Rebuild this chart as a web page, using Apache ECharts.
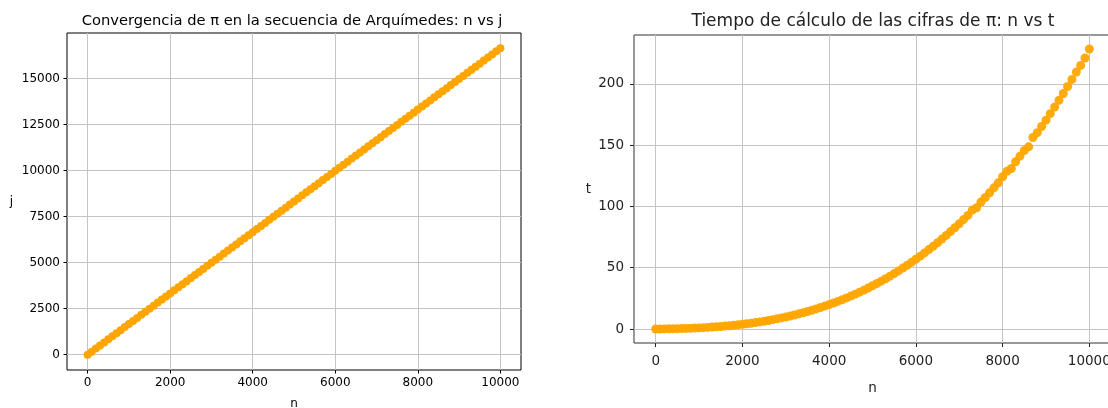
<!DOCTYPE html>
<html>
<head>
<meta charset="utf-8">
<script src="https://cdn.jsdelivr.net/npm/echarts@6/dist/echarts.min.js"></script>
<style>
html,body{margin:0;padding:0;background:#fff;}
#chart{width:1108px;height:408px;}
</style>
</head>
<body>
<div id="chart"></div>
<script>
// n values (shared by both plots)
const nValues = [0,100,200,300,400,500,600,700,800,900,1000,1100,1200,1300,1400,1500,1600,1700,1800,1900,2000,2100,2200,2300,2400,2500,2600,2700,2800,2900,3000,3100,3200,3300,3400,3500,3600,3700,3800,3900,4000,4100,4200,4300,4400,4500,4600,4700,4800,4900,5000,5100,5200,5300,5400,5500,5600,5700,5800,5900,6000,6100,6200,6300,6400,6500,6600,6700,6800,6900,7000,7100,7200,7300,7400,7500,7600,7700,7800,7900,8000,8100,8200,8300,8400,8500,8600,8700,8800,8900,9000,9100,9200,9300,9400,9500,9600,9700,9800,9900,10000];
// j values (left plot)
const jValues = [0,166,333,499,666,832,998,1165,1331,1498,1664,1830,1997,2163,2330,2496,2662,2829,2995,3162,3328,3494,3661,3827,3994,4160,4326,4493,4659,4826,4992,5158,5325,5491,5658,5824,5990,6157,6323,6490,6656,6822,6989,7155,7322,7488,7654,7821,7987,8154,8320,8486,8653,8819,8986,9152,9318,9485,9651,9818,9984,10150,10317,10483,10650,10816,10982,11149,11315,11482,11648,11814,11981,12147,12314,12480,12646,12813,12979,13146,13312,13478,13645,13811,13978,14144,14310,14477,14643,14810,14976,15142,15309,15475,15642,15808,15974,16141,16307,16474,16640];
// t values (right plot)
const tValues = [0,0.04,0.08,0.14,0.2,0.29,0.38,0.49,0.62,0.77,0.93,1.11,1.32,1.55,1.8,2.07,2.37,2.69,3.05,3.43,3.84,4.28,4.75,5.26,5.8,6.38,6.99,7.63,8.32,9.04,9.81,10.62,11.47,12.36,13.3,14.28,15.31,16.39,17.52,18.69,19.92,21.2,22.53,23.92,25.37,26.87,28.42,30.04,31.72,33.45,35.25,37.11,39.04,41.03,43.09,45.21,47.4,49.67,52.0,54.4,56.88,59.43,62.06,64.76,67.54,70.4,73.33,76.35,79.44,82.62,85.89,89.24,92.67,97.0,98.9,103.5,107.29,111.16,115.14,119.2,124.2,128.6,130.9,136.41,140.96,145.61,148.6,156.2,160.15,165.21,170.37,175.64,181.01,186.5,192.09,197.79,203.6,209.53,215.0,221.0,228.4];
// tick labels
const xTicks = [0,2000,4000,6000,8000,10000];
const jTicks = [0,2500,5000,7500,10000,12500,15000];
const tTicks = [0,50,100,150,200];

const leftTitle = 'Convergencia de π en la secuencia de Arquímedes: n vs j';
const rightTitle = 'Tiempo de cálculo de las cifras de π: n vs t';

const ORANGE = '#FFA500';
const FONT = 'DejaVu Sans';

function pairs(xs, ys){ return xs.map((x,i)=>[x, ys[i]]); }

const chart = echarts.init(document.getElementById('chart'), null, {renderer:'canvas'});

function xAxisCfg(gridIndex, opts){
  return {
    type:'value', gridIndex, min:-500, max:10500, position:'bottom',
    name:'n', nameLocation:'middle', nameGap:opts.nameGap,
    nameTextStyle:{fontFamily:FONT, fontSize:opts.nameSize, color:opts.color},
    axisLine:{show:false, onZero:false},
    axisTick:{show:true, inside:false, length:opts.tickLen, lineStyle:{color:opts.color, width:1}, customValues:xTicks},
    axisLabel:{fontFamily:FONT, fontSize:opts.fontSize, color:opts.color, margin:opts.margin, customValues:xTicks, formatter:v=>String(v)},
    splitLine:{show:true, lineStyle:{color:'#c4c4c4', width:1}}
  };
}
function yAxisCfg(gridIndex, opts){
  return {
    type:'value', gridIndex, min:opts.min, max:opts.max, position:'left',
    name:opts.name, nameLocation:'middle', nameGap:opts.nameGap, nameRotate:0,
    nameTextStyle:{fontFamily:FONT, fontSize:opts.nameSize, color:opts.color},
    axisLine:{show:false, onZero:false},
    axisTick:{show:true, inside:false, length:opts.tickLen, lineStyle:{color:opts.color, width:1}, customValues:opts.ticks},
    axisLabel:{fontFamily:FONT, fontSize:opts.fontSize, color:opts.color, margin:opts.margin, customValues:opts.ticks, formatter:v=>String(v)},
    splitLine:{show:true, lineStyle:{color:'#c4c4c4', width:1}}
  };
}

const option = {
  animation:false,
  backgroundColor:'#ffffff',
  title:[
    {text:leftTitle, left:287, top:9, textAlign:'center',
     textStyle:{fontFamily:FONT, fontSize:14.7, fontWeight:'normal', color:'#000'}},
    {text:rightTitle, left:868, top:8, textAlign:'center',
     textStyle:{fontFamily:FONT, fontSize:17, fontWeight:'normal', color:'#222'}}
  ],
  grid:[
    {left:67, top:33, width:454, height:337, show:true, borderColor:'#000', borderWidth:1, backgroundColor:'transparent', containLabel:false, outerBoundsMode:'none'},
    {left:634, top:35, width:477, height:308, show:true, borderColor:'#333', borderWidth:1, backgroundColor:'transparent', containLabel:false, outerBoundsMode:'none'}
  ],
  xAxis:[
    xAxisCfg(0,{nameGap:28, nameSize:12, color:'#000', fontSize:12, margin:7, tickLen:3.5}),
    xAxisCfg(1,{nameGap:38, nameSize:13.5, color:'#222', fontSize:13.5, margin:11, tickLen:4})
  ],
  yAxis:[
    yAxisCfg(0,{min:-832, max:17472, ticks:jTicks, name:'j', nameGap:54, nameSize:12, color:'#000', fontSize:12, margin:7, tickLen:3.5}),
    yAxisCfg(1,{min:-11.4, max:239.8, ticks:tTicks, name:'t', nameGap:43, nameSize:13.5, color:'#222', fontSize:13.5, margin:10, tickLen:4})
  ],
  series:[
    {type:'scatter', xAxisIndex:0, yAxisIndex:0, data:pairs(nValues,jValues),
     symbol:'circle', symbolSize:8, itemStyle:{color:ORANGE, opacity:1}},
    {type:'scatter', xAxisIndex:1, yAxisIndex:1, data:pairs(nValues,tValues),
     symbol:'circle', symbolSize:9, itemStyle:{color:ORANGE, opacity:0.95}}
  ]
};
chart.setOption(option);
</script>
</body>
</html>
